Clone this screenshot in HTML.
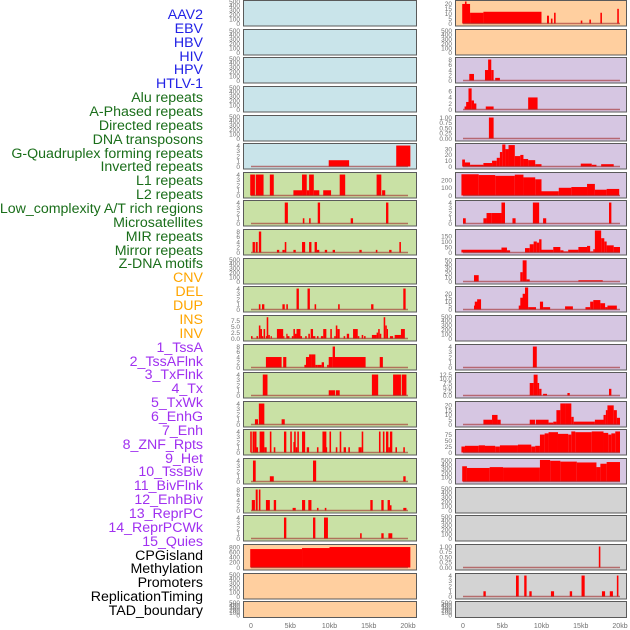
<!DOCTYPE html>
<html><head><meta charset="utf-8">
<style>
html,body{margin:0;padding:0;background:#fff;}
#wrap{position:relative;width:630px;height:630px;overflow:hidden;}
.lbl{position:absolute;right:427px;font-family:"Liberation Sans",sans-serif;font-size:14.2px;line-height:14px;white-space:nowrap;}
svg text{font-family:"Liberation Sans",sans-serif;}
</style></head>
<body>
<div id="wrap">
<div id="labels"></div>
<svg id="chart" width="630" height="630"></svg>
</div>
<script>
// ---- labels ----
const trackLabels=["AAV2","EBV","HBV","HIV","HPV","HTLV-1","Alu repeats","A-Phased repeats","Directed repeats","DNA transposons","G-Quadruplex forming repeats","Inverted repeats","L1 repeats","L2 repeats","Low_complexity A/T rich regions","Microsatellites","MIR repeats","Mirror repeats","Z-DNA motifs","CNV","DEL","DUP","INS","INV","1_TssA","2_TssAFlnk","3_TxFlnk","4_Tx","5_TxWk","6_EnhG","7_Enh","8_ZNF_Rpts","9_Het","10_TssBiv","11_BivFlnk","12_EnhBiv","13_ReprPC","14_ReprPCWk","15_Quies","CPGisland","Methylation","Promoters","ReplicationTiming","TAD_boundary"];
const labelGroups=[6,13,5,15,5];
const groupColors=["#2222e6","#1a6e1a","#ffa500","#a030f0","#000000"];
// ---- panel backgrounds ----
const leftBg=["b","b","b","b","b","b","g","g","g","g","g","g","g","g","g","g","g","g","g","o","o","o"];
const rightBg=["o","o","p","p","p","p","p","p","p","p","p","p","p","p","p","p","p","y","y","y","y","y"];
// ---- y-axis maxima and ticks ----
const leftYmax=[500,500,500,500,500,4.2,4.2,4.2,8.4,500,4.2,9.3,8.4,4.2,4.2,4.2,4.2,8.4,4.2,860,500,500];
const leftTicks=["E","E","E","E","E","4","4","4","8","E","4","7.5","8","4","4","4","4","8","4","800","E","E"];
const rightYmax=[22.5,500,8.4,7.3,1.05,38,285,4.2,200,52,28,500,4.2,13.2,23,92,520,500,500,1.05,4.2,500];
const rightTicks=["20","E","8","6","1","30","200","4","150","50","20","E","4","12.5","20","75","500","E","E","1","4","E"];
// ---- left column series: [startKb, endKb, value] ----
const L5=[[9.9,12.5,1.2],[18.5,20.3,4]];
const L6=[[-0.1,0.5,4],[0.6,1.6,4],[2.4,2.9,4],[5.4,6.5,1],[6.5,7.1,4],[7.1,7.4,1],[7.4,8.0,4],[8.0,8.7,1],[9.2,10.2,1],[11.3,12.0,4],[16.0,16.6,4],[16.7,17.1,1]];
const L7=[[4.3,4.7,4],[6.6,6.8,1],[7.4,7.6,1],[8.5,8.8,4],[12.7,13.0,1],[17.2,17.5,4]];
const L8=[[0.2,0.5,4],[0.6,0.85,4],[1.0,1.3,8],[3.3,3.6,1],[4.0,4.3,1],[4.3,4.5,4],[5.4,5.7,1],[6.5,6.9,4],[7.4,7.7,4],[8.1,8.4,4],[8.4,8.7,1],[9.4,9.7,1],[10.4,10.7,1],[13.8,14.1,1],[15.9,16.1,1],[17.6,17.9,1],[18.9,19.1,4]];
const L10=[[1.0,1.2,1],[1.4,1.7,1],[4.0,4.3,1],[4.5,4.7,1],[5.8,6.1,4],[7.2,7.5,4],[8.1,8.3,1],[11.1,11.3,1],[15.3,15.6,1],[19.4,19.7,4]];
const L11=[[0.0,0.2,1],[0.7,0.9,1],[1.0,1.2,5.5],[1.2,1.4,4],[1.4,1.5,1],[1.6,1.8,4],[1.9,2.0,1],[2.0,2.2,9],[2.2,2.4,1.5],[2.5,2.6,1],[3.3,4.1,4],[4.1,4.2,1],[4.5,4.6,2],[4.6,4.9,1],[5.2,5.4,1],[5.4,5.6,4],[5.6,5.8,2],[5.8,6.3,4],[6.3,6.5,1],[6.9,7.1,1],[7.3,7.5,2],[7.6,7.9,4],[7.9,8.2,1],[8.4,8.6,1],[8.9,9.2,1],[9.2,9.6,4],[10.1,10.3,4],[10.6,10.8,1],[10.8,11.0,5.5],[11.0,11.3,4],[11.8,12.0,1],[12.2,12.5,2],[13.0,13.6,4],[13.6,13.8,1],[14.1,14.3,1.5],[14.4,14.6,1],[15.4,16.0,1.5],[16.0,16.2,2.5],[16.2,16.4,4],[16.4,16.6,2],[16.9,17.1,9],[17.1,17.3,5.5],[17.3,17.4,4],[17.7,18.1,1],[18.3,19.1,1.5],[19.1,19.6,4]];
const L12=[[1.9,3.9,4],[4.1,4.5,4],[6.8,7.1,1],[7.0,7.5,4],[7.4,7.7,5],[7.7,8.2,5],[8.2,8.5,1],[8.5,9.0,1],[9.0,9.3,2],[9.7,9.9,1],[9.9,10.4,4],[10.4,10.7,8],[10.7,14.6,4],[16.4,16.8,4]];
const L13=[[1.5,2.1,4],[9.9,10.7,1],[10.8,11.3,1],[15.4,16.2,4],[18.1,19.1,4],[19.2,19.8,4]];
const L14=[[0.5,0.9,1],[1.0,1.7,4],[3.9,4.3,1]];
const L15=[[-0.1,0.1,4],[0.2,0.4,4],[0.4,0.7,4],[0.7,0.9,1],[1.1,1.7,4],[1.7,2.0,1],[2.4,2.6,4],[2.9,3.1,1],[4.2,4.5,4],[5.0,5.2,4],[5.4,5.5,2],[5.5,5.7,4],[5.7,5.9,1],[5.9,6.1,4],[6.5,6.9,4],[7.1,7.4,1],[8.4,8.6,1],[9.1,9.3,4],[9.3,9.6,4],[9.5,9.7,1],[10.0,10.2,4],[10.8,11.0,1],[11.3,11.5,4],[11.8,12.1,1],[12.4,12.6,1],[13.7,14.1,1],[14.1,14.3,4],[16.3,16.5,4],[16.8,17.0,4],[17.2,17.5,4],[17.5,17.7,1],[17.7,18.0,4],[18.4,18.6,1],[19.4,19.6,1]];
const L16=[[0.25,0.6,4],[2.4,2.9,1],[7.9,8.3,4],[19.4,19.7,1]];
const L17=[[0.1,0.5,4],[0.6,0.85,8],[1.0,1.2,8],[1.9,2.4,4],[2.9,3.2,4],[5.3,5.7,1],[6.5,6.9,4],[7.3,7.7,4],[8.4,8.6,1],[9.4,9.6,1],[15.2,15.5,4],[16.6,16.9,4],[17.4,17.7,4],[17.7,17.9,2],[19.4,19.8,1]];
const L18=[[4.2,4.5,4],[7.9,8.2,4],[9.3,9.8,4],[13.9,14.1,1],[16.6,16.9,1],[17.5,18.0,1]];
const L19=[[-0.1,6.5,720],[6.5,10.0,760],[10.0,20.3,800]];
const leftSeries=[[],[],[],[],[],L5,L6,L7,L8,[],L10,L11,L12,L13,L14,L15,L16,L17,L18,L19,[],[]];
// ---- right column series ----
const R0=[[-0.1,0.9,20],[0.25,0.45,23],[0.9,2.6,11],[2.6,10.0,12],[10.7,10.95,8],[11.2,11.4,5],[11.6,11.8,11],[15.0,15.2,3],[16.1,16.3,4],[17.5,17.7,11],[19.65,19.85,15]];
const R2=[[0.8,1.4,2.5],[2.8,3.4,4],[3.2,3.6,8],[3.6,3.9,4],[4.1,4.7,1]];
const R3=[[0.2,0.5,1],[0.4,0.7,2.5],[0.7,1.1,7],[1.1,1.4,3],[1.4,1.7,2],[2.9,3.9,1],[8.3,9.5,4]];
const R4=[[3.3,3.9,1]];
const R5=[[-0.1,0.25,12],[0.25,0.9,7],[0.9,2.6,3],[2.6,3.7,6],[3.7,4.3,10],[4.3,4.7,15],[4.7,5.0,25],[5.0,5.4,38],[5.4,5.8,30],[5.8,6.6,37],[6.6,7.3,18],[7.3,7.7,20],[7.7,8.3,13],[8.3,9.2,11],[9.2,10.0,4],[15.0,16.4,5],[16.4,17.0,3],[17.6,19.2,4]];
const R6=[[-0.2,2.0,275],[2.0,4.1,265],[4.1,6.6,255],[6.6,7.7,270],[7.7,9.2,235],[9.2,10.0,210],[10.0,12.2,55],[12.2,13.8,100],[13.8,15.8,110],[15.8,16.8,150],[16.8,18.3,75],[18.3,19.9,85]];
const R7=[[0,0.35,1],[2.6,3.0,1],[3.0,3.6,2],[3.6,4.9,2],[4.9,5.35,4],[6.3,6.7,1],[8.9,9.7,4],[10.2,10.6,1],[18.6,18.9,4]];
const R8=[[-0.2,4.9,25],[4.9,5.6,45],[5.6,6.0,20],[7.9,8.5,40],[8.5,9.0,75],[9.0,9.4,100],[9.4,9.7,90],[9.7,10.0,120],[10.0,11.5,25],[11.5,12.4,50],[12.4,12.8,20],[12.8,13.4,10],[13.4,14.7,25],[14.7,15.8,50],[15.8,16.2,60],[16.2,16.6,10],[16.6,16.8,30],[16.8,17.6,200],[17.6,18.0,130],[18.0,18.3,100],[18.3,19.2,65],[19.2,20.0,50]];
const R9=[[1.4,2.0,15],[7.3,7.6,22],[7.6,8.1,50],[8.1,8.5,5],[14.7,17.8,3]];
const R10=[[1.4,1.7,5],[1.5,1.9,10],[1.8,2.3,13],[7.1,7.4,5],[7.3,7.7,15],[7.6,8.0,20],[7.9,8.3,28],[8.3,9.3,3],[9.8,10.2,10],[10.2,11.1,3],[13.0,14.0,4],[15.6,16.2,3],[16.2,16.6,10],[16.6,17.5,12],[17.5,18.1,8],[18.1,18.4,3],[18.4,19.6,5]];
const R12=[[8.9,9.4,4]];
const R13=[[8.5,9.0,7.5],[9.0,9.5,12.5],[9.5,9.7,7.5],[9.7,10.0,4],[10.2,10.7,1],[13.3,13.6,1.5],[18.6,18.9,4]];
const R14=[[2.6,3.7,5],[3.7,4.4,10],[4.4,4.8,5],[8.5,9.2,5],[9.3,10.9,5],[10.9,11.5,2],[11.5,11.9,3],[11.9,12.4,15],[12.4,13.0,22],[13.0,13.8,22],[13.8,14.1,8],[14.1,16.8,3],[16.8,17.9,5],[17.9,18.2,10],[18.2,18.4,15],[18.4,19.2,20],[19.2,19.6,15],[19.6,20.0,7]];
const R15=[[-0.2,0.25,25],[0.25,2.0,28],[2.0,2.8,30],[2.8,4.1,28],[4.1,4.7,25],[4.7,7.0,30],[7.0,8.7,33],[8.7,9.2,25],[9.2,9.8,28],[9.8,10.4,75],[10.4,10.9,80],[10.9,12.1,85],[12.1,13.4,78],[13.4,13.8,75],[13.8,14.3,88],[14.3,16.4,85],[16.4,17.9,88],[17.9,18.5,82],[18.5,18.9,75],[18.9,19.4,80],[19.4,20.0,88]];
const R16=[[-0.1,0.5,360],[0.5,3.4,320],[3.4,5.1,340],[5.1,9.8,330],[9.8,11.1,510],[11.1,12.4,490],[12.4,14.5,470],[14.5,17.0,450],[17.0,17.5,340],[17.5,18.3,420],[18.3,20.0,460]];
const R19=[[17.3,17.5,1]];
const R20=[[2.6,2.9,1],[6.75,7.1,4],[7.8,8.1,4],[8.45,8.75,1],[11.2,11.6,1],[13.6,13.9,1],[15.1,15.5,4],[17.7,18.1,1],[18.7,19.1,1],[19.6,19.8,4]];
const rightSeries=[R0,[],R2,R3,R4,R5,R6,R7,R8,R9,R10,[],R12,R13,R14,R15,R16,[],[],R19,R20,[]];
// ---- x-axis ----
const xTickVals=[0,5000,10000,15000,20000];
const xTickLabels=["0","5kb","10kb","15kb","20kb"];

const tickSets={
 "E":[[0,"0"],[100,"100"],[200,"200"],[300,"300"],[400,"400"],[500,"500"]],
 "4":[[0,"0"],[1,"1"],[2,"2"],[3,"3"],[4,"4"]],
 "8":[[0,"0"],[2,"2"],[4,"4"],[6,"6"],[8,"8"]],
 "6":[[0,"0"],[2,"2"],[4,"4"],[6,"6"]],
 "7.5":[[0,"0.0"],[2.5,"2.5"],[5,"5.0"],[7.5,"7.5"]],
 "800":[[0,"0"],[200,"200"],[400,"400"],[600,"600"],[800,"800"]],
 "20":[[0,"0"],[5,"5"],[10,"10"],[15,"15"],[20,"20"]],
 "1":[[0,"0.00"],[0.25,"0.25"],[0.5,"0.50"],[0.75,"0.75"],[1,"1.00"]],
 "30":[[0,"0"],[10,"10"],[20,"20"],[30,"30"]],
 "200":[[0,"0"],[100,"100"],[200,"200"]],
 "150":[[0,"0"],[50,"50"],[100,"100"],[150,"150"]],
 "50":[[0,"0"],[10,"10"],[20,"20"],[30,"30"],[40,"40"],[50,"50"]],
 "12.5":[[0,"0.0"],[2.5,"2.5"],[5,"5.0"],[7.5,"7.5"],[10,"10.0"],[12.5,"12.5"]],
 "75":[[0,"0"],[25,"25"],[50,"50"],[75,"75"]],
 "500":[[0,"0"],[100,"100"],[200,"200"],[300,"300"],[400,"400"],[500,"500"]]
};
const bgColors={b:"#c9e4ea",g:"#c9e1a5",o:"#ffcf9f",p:"#d6c6e2",y:"#d3d3d3"};

const NS="http://www.w3.org/2000/svg";
const svg=document.getElementById('chart');
function mk(tag,attrs,parent){const e=document.createElementNS(NS,tag);for(const k in attrs)e.setAttribute(k,attrs[k]);(parent||svg).appendChild(e);return e;}

// labels
const labDiv=document.getElementById('labels');
let li=0;
labelGroups.forEach((n,gi)=>{for(let j=0;j<n;j++){const d=document.createElement('div');d.className='lbl';d.style.color=groupColors[gi];d.style.top=(15+li*13.86-7)+'px';d.textContent=trackLabels[li];


labDiv.appendChild(d);li++;}});

const cols=[{x0:243,x1:416,zero:251,bg:leftBg,ymax:leftYmax,ticks:leftTicks,series:leftSeries,name:'left'},
            {x0:455,x1:626,zero:463,bg:rightBg,ymax:rightYmax,ticks:rightTicks,series:rightSeries,name:'right'}];
const kbPx=157/20;
function xScale(col,kb){return col.zero+kb*kbPx;}

cols.forEach(col=>{
 for(let r=0;r<22;r++){
  const top=Math.round(r*28.63)+0.5;
  const h=(r===21)?16:25.5;
  const bot=top+h;
  const g=mk('g',{});
  
  
  const bg=mk('rect',{x:col.x0+0.5,y:top,width:col.x1-col.x0,height:h,fill:bgColors[col.bg[r]]},g);
  
  
  const ymax=col.ymax[r]===undefined?500:col.ymax[r];
  const y0=bot-2.5, y1=top+1;
  const yScale=v=>y0-(v/ymax)*(y0-y1);
  const ser=col.series[r]||[];
  ser.forEach(s=>{
   const xa=xScale(col,s[0]),xb=xScale(col,s[1]);
   const yy=yScale(Math.min(s[2],ymax));
   const b=mk('rect',{x:xa,y:yy,width:Math.max(1.2,xb-xa),height:y0-yy,fill:'#ff0000'},g);
   
   
  });
  if(ser.length){
   const bl=mk('line',{x1:xScale(col,0),x2:xScale(col,20),y1:y0,y2:y0,stroke:'rgba(160,40,40,0.6)','stroke-width':1.5},g);
   
   
  }
  const br=mk('rect',{x:col.x0+0.5,y:top,width:col.x1-col.x0,height:h,fill:'none',stroke:'#5a5a5a','stroke-width':1},g);
  
  
  const ts=tickSets[col.ticks[r]||"E"];
  ts.forEach(t=>{
   const ty=yScale(t[0]);
   const tx=mk('text',{x:col.x0-3,y:ty+2.3,'font-size':6.5,fill:'#707070','text-anchor':'end'},g);
   tx.textContent=t[1];
   
   
  });
 }
 xTickVals.forEach((v,i)=>{
  const t=mk('text',{x:xScale(col,v/1000),y:628,'font-size':7,fill:'#707070','text-anchor':'middle'});
  t.textContent=xTickLabels[i];
  
  
 });
});
</script>
</body></html>
